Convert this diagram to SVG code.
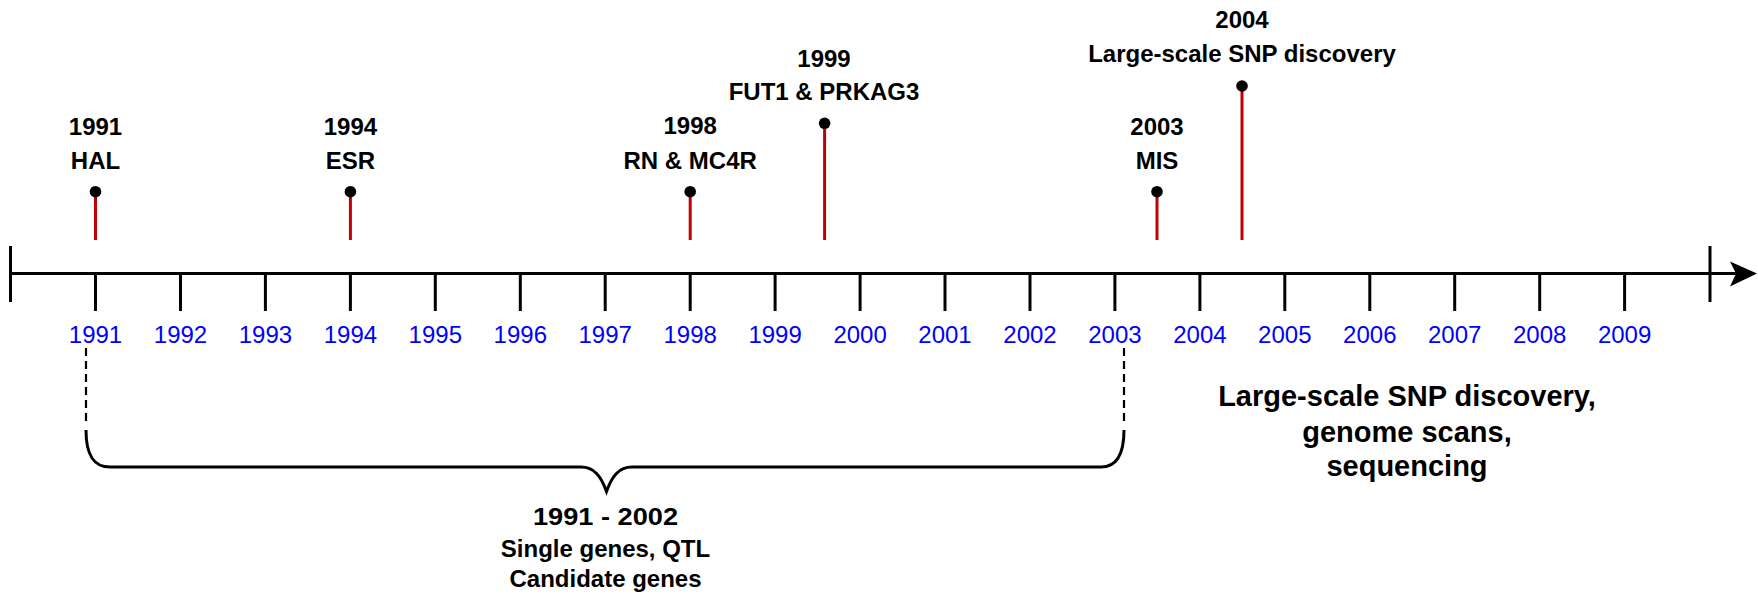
<svg xmlns="http://www.w3.org/2000/svg" width="1758" height="598" viewBox="0 0 1758 598">
<style>
text{font-family:"Liberation Sans",Arial,sans-serif;text-anchor:middle}
.ev{font-weight:bold;font-size:24px;fill:#000}
.yr{font-size:24px;fill:#0000FF}
.big{font-weight:bold;font-size:29px;fill:#000}
.mid{font-weight:bold;font-size:24px;fill:#000}
.ax{stroke:#000;stroke-width:3;fill:none}
.stem{stroke:#C00000;stroke-width:3;fill:none}
.dot{fill:#000}
.br{stroke:#000;stroke-width:3;fill:none}
.dash{stroke:#000;stroke-width:2.2;fill:none;stroke-dasharray:8 5}
</style>
<g id="axis">
<line class="ax" x1="10.5" y1="273.5" x2="1738" y2="273.5"/>
<line class="ax" x1="10.5" y1="246" x2="10.5" y2="302"/>
<line class="ax" x1="1710" y1="246" x2="1710" y2="302"/>
<path d="M1757 273.5 L1730 261.5 L1736 273.5 L1730 286.5 Z" fill="#000"/>
<g class="ax">
<line x1="95.5" y1="273" x2="95.5" y2="311"/>
<line x1="180.5" y1="273" x2="180.5" y2="311"/>
<line x1="265.4" y1="273" x2="265.4" y2="311"/>
<line x1="350.4" y1="273" x2="350.4" y2="311"/>
<line x1="435.3" y1="273" x2="435.3" y2="311"/>
<line x1="520.3" y1="273" x2="520.3" y2="311"/>
<line x1="605.2" y1="273" x2="605.2" y2="311"/>
<line x1="690.2" y1="273" x2="690.2" y2="311"/>
<line x1="775.1" y1="273" x2="775.1" y2="311"/>
<line x1="860.1" y1="273" x2="860.1" y2="311"/>
<line x1="945" y1="273" x2="945" y2="311"/>
<line x1="1030" y1="273" x2="1030" y2="311"/>
<line x1="1114.9" y1="273" x2="1114.9" y2="311"/>
<line x1="1199.9" y1="273" x2="1199.9" y2="311"/>
<line x1="1284.8" y1="273" x2="1284.8" y2="311"/>
<line x1="1369.8" y1="273" x2="1369.8" y2="311"/>
<line x1="1454.7" y1="273" x2="1454.7" y2="311"/>
<line x1="1539.7" y1="273" x2="1539.7" y2="311"/>
<line x1="1624.6" y1="273" x2="1624.6" y2="311"/>
</g>
<g class="yr">
<text x="95.5" y="343">1991</text>
<text x="180.5" y="343">1992</text>
<text x="265.4" y="343">1993</text>
<text x="350.4" y="343">1994</text>
<text x="435.3" y="343">1995</text>
<text x="520.3" y="343">1996</text>
<text x="605.2" y="343">1997</text>
<text x="690.2" y="343">1998</text>
<text x="775.1" y="343">1999</text>
<text x="860.1" y="343">2000</text>
<text x="945" y="343">2001</text>
<text x="1030" y="343">2002</text>
<text x="1114.9" y="343">2003</text>
<text x="1199.9" y="343">2004</text>
<text x="1284.8" y="343">2005</text>
<text x="1369.8" y="343">2006</text>
<text x="1454.7" y="343">2007</text>
<text x="1539.7" y="343">2008</text>
<text x="1624.6" y="343">2009</text>
</g>
</g>
<g id="ev1991">
<line class="stem" x1="95.5" y1="192" x2="95.5" y2="240"/>
<circle class="dot" cx="95.5" cy="191.7" r="5.8"/>
<text class="ev" x="95.5" y="135">1991</text>
<text class="ev" x="95.5" y="169">HAL</text>
</g>
<g id="ev1994">
<line class="stem" x1="350.4" y1="192" x2="350.4" y2="240"/>
<circle class="dot" cx="350.4" cy="191.7" r="5.8"/>
<text class="ev" x="350.4" y="135">1994</text>
<text class="ev" x="350.4" y="169">ESR</text>
</g>
<g id="ev1998">
<line class="stem" x1="690.2" y1="192" x2="690.2" y2="240"/>
<circle class="dot" cx="690.2" cy="191.7" r="5.8"/>
<text class="ev" x="690.2" y="134">1998</text>
<text class="ev" x="690.2" y="168.5">RN &amp; MC4R</text>
</g>
<g id="ev1999">
<line class="stem" x1="824.6" y1="124" x2="824.6" y2="240"/>
<circle class="dot" cx="824.6" cy="123.3" r="5.8"/>
<text class="ev" x="824" y="66.7">1999</text>
<text class="ev" x="824" y="100">FUT1 &amp; PRKAG3</text>
</g>
<g id="ev2003">
<line class="stem" x1="1157" y1="192" x2="1157" y2="240"/>
<circle class="dot" cx="1157" cy="191.7" r="5.8"/>
<text class="ev" x="1157" y="135">2003</text>
<text class="ev" x="1157" y="169">MIS</text>
</g>
<g id="ev2004">
<line class="stem" x1="1242" y1="86" x2="1242" y2="240"/>
<circle class="dot" cx="1242" cy="86" r="5.8"/>
<text class="ev" x="1242" y="28.3">2004</text>
<text class="ev" x="1242" y="61.7">Large-scale SNP discovery</text>
</g>
<g id="connectors">
<line class="dash" x1="86" y1="348" x2="86" y2="423"/>
<line class="dash" x1="1124" y1="348" x2="1124" y2="423"/>
<path class="br" d="M86 430 C86 456 94 467 110 467 L581 467 C594 467 601 476 606.5 491.5 C612 476 619 467 632 467 L1101 467 C1116 467 1124 456 1124 430"/>
</g>
<g id="period1">
<text class="mid" x="605.5" y="525" textLength="145" lengthAdjust="spacingAndGlyphs">1991 - 2002</text>
<text class="mid" x="605.5" y="556.5">Single genes, QTL</text>
<text class="mid" x="605.5" y="587">Candidate genes</text>
</g>
<g id="period2">
<text class="big" x="1407" y="406">Large-scale SNP discovery,</text>
<text class="big" x="1407" y="442">genome scans,</text>
<text class="big" x="1407" y="476">sequencing</text>
</g>
</svg>
